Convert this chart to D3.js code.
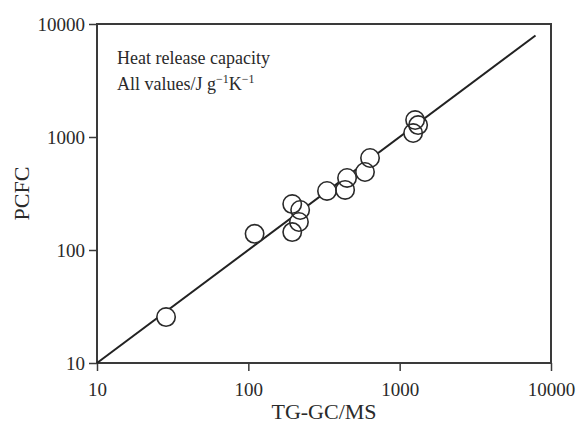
<!DOCTYPE html>
<html>
<head>
<meta charset="utf-8">
<script src="https://cdn.jsdelivr.net/npm/d3@7"></script>
<style>
  html, body { margin: 0; padding: 0; background: #fff; }
  svg { display: block; }
  text { font-family: "Liberation Serif", "Times New Roman", serif; fill: #2a2a2a; }
</style>
</head>
<body>
<svg id="chart" width="576" height="423"></svg>
<script>
// Data
const tgValues   = [28.6, 110, 195, 220, 216, 195, 331, 436, 449, 590, 637, 1265, 1324, 1227];
const pcfcValues = [25.5, 139, 255, 226, 177, 144, 333, 340, 434, 490, 652, 1413, 1275, 1084];
const tickValues = [10, 100, 1000, 10000];
const fitLine = [[10, 10], [7900, 7900]];
const xTitle = "TG-GC/MS";
const yTitle = "PCFC";

(function () {
const svg = d3.select("#chart");
const mL = 97, mR = 551, mT = 24, mB = 363;

const x = d3.scaleLog().domain([10, 10000]).range([mL, mR]);
const y = d3.scaleLog().domain([10, 10000]).range([mB, mT]);

// frame
svg.append("rect")
  .attr("x", mL).attr("y", mT)
  .attr("width", mR - mL).attr("height", mB - mT)
  .attr("fill", "none").attr("stroke", "#3a3a3a").attr("stroke-width", 2);

// axes
const xAxis = svg.append("g").attr("transform", `translate(0,${mB})`)
  .call(d3.axisBottom(x).tickValues(tickValues).tickFormat(d3.format("d")).tickSize(8).tickPadding(12));
const yAxis = svg.append("g").attr("transform", `translate(${mL},0)`)
  .call(d3.axisLeft(y).tickValues(tickValues).tickFormat(d3.format("d")).tickSize(8).tickPadding(4));
[xAxis, yAxis].forEach(a => {
  a.select(".domain").remove();
  a.selectAll(".tick line").attr("stroke", "#3a3a3a").attr("stroke-width", 1.5);
  a.selectAll(".tick text").style("font-family", "Liberation Serif, serif").style("font-size", "19px").attr("fill", "#2a2a2a");
});

// titles
svg.append("text").attr("x", (mL + mR) / 2).attr("y", 419)
  .attr("text-anchor", "middle").style("font-size", "22px").text(xTitle);
svg.append("text").attr("transform", `translate(29,${(mT + mB) / 2}) rotate(-90)`)
  .attr("text-anchor", "middle").style("font-size", "22px").text(yTitle);

// annotation
svg.append("text").attr("x", 117).attr("y", 64).style("font-size", "18px").text("Heat release capacity");
const t2 = svg.append("text").attr("x", 117).attr("y", 90).style("font-size", "18px");
t2.append("tspan").text("All values/J g");
t2.append("tspan").attr("dy", -7).style("font-size", "12px").text("\u22121");
t2.append("tspan").attr("dy", 7).text("K");
t2.append("tspan").attr("dy", -7).style("font-size", "12px").text("\u22121");

// fit line
svg.append("line")
  .attr("x1", x(fitLine[0][0])).attr("y1", y(fitLine[0][1]))
  .attr("x2", x(fitLine[1][0])).attr("y2", y(fitLine[1][1]))
  .attr("stroke", "#222").attr("stroke-width", 2);

const pts = tgValues.map((v, i) => [v, pcfcValues[i]]);
// white fills first, then outlines so all outlines show
svg.append("g").selectAll("circle").data(pts).join("circle")
  .attr("cx", d => x(d[0])).attr("cy", d => y(d[1])).attr("r", 9.2)
  .attr("fill", "#fff").attr("stroke", "none");
svg.append("g").selectAll("circle").data(pts).join("circle")
  .attr("cx", d => x(d[0])).attr("cy", d => y(d[1])).attr("r", 9.2)
  .attr("fill", "none").attr("stroke", "#2a2a2a").attr("stroke-width", 1.6);
})();
</script>
</body>
</html>
